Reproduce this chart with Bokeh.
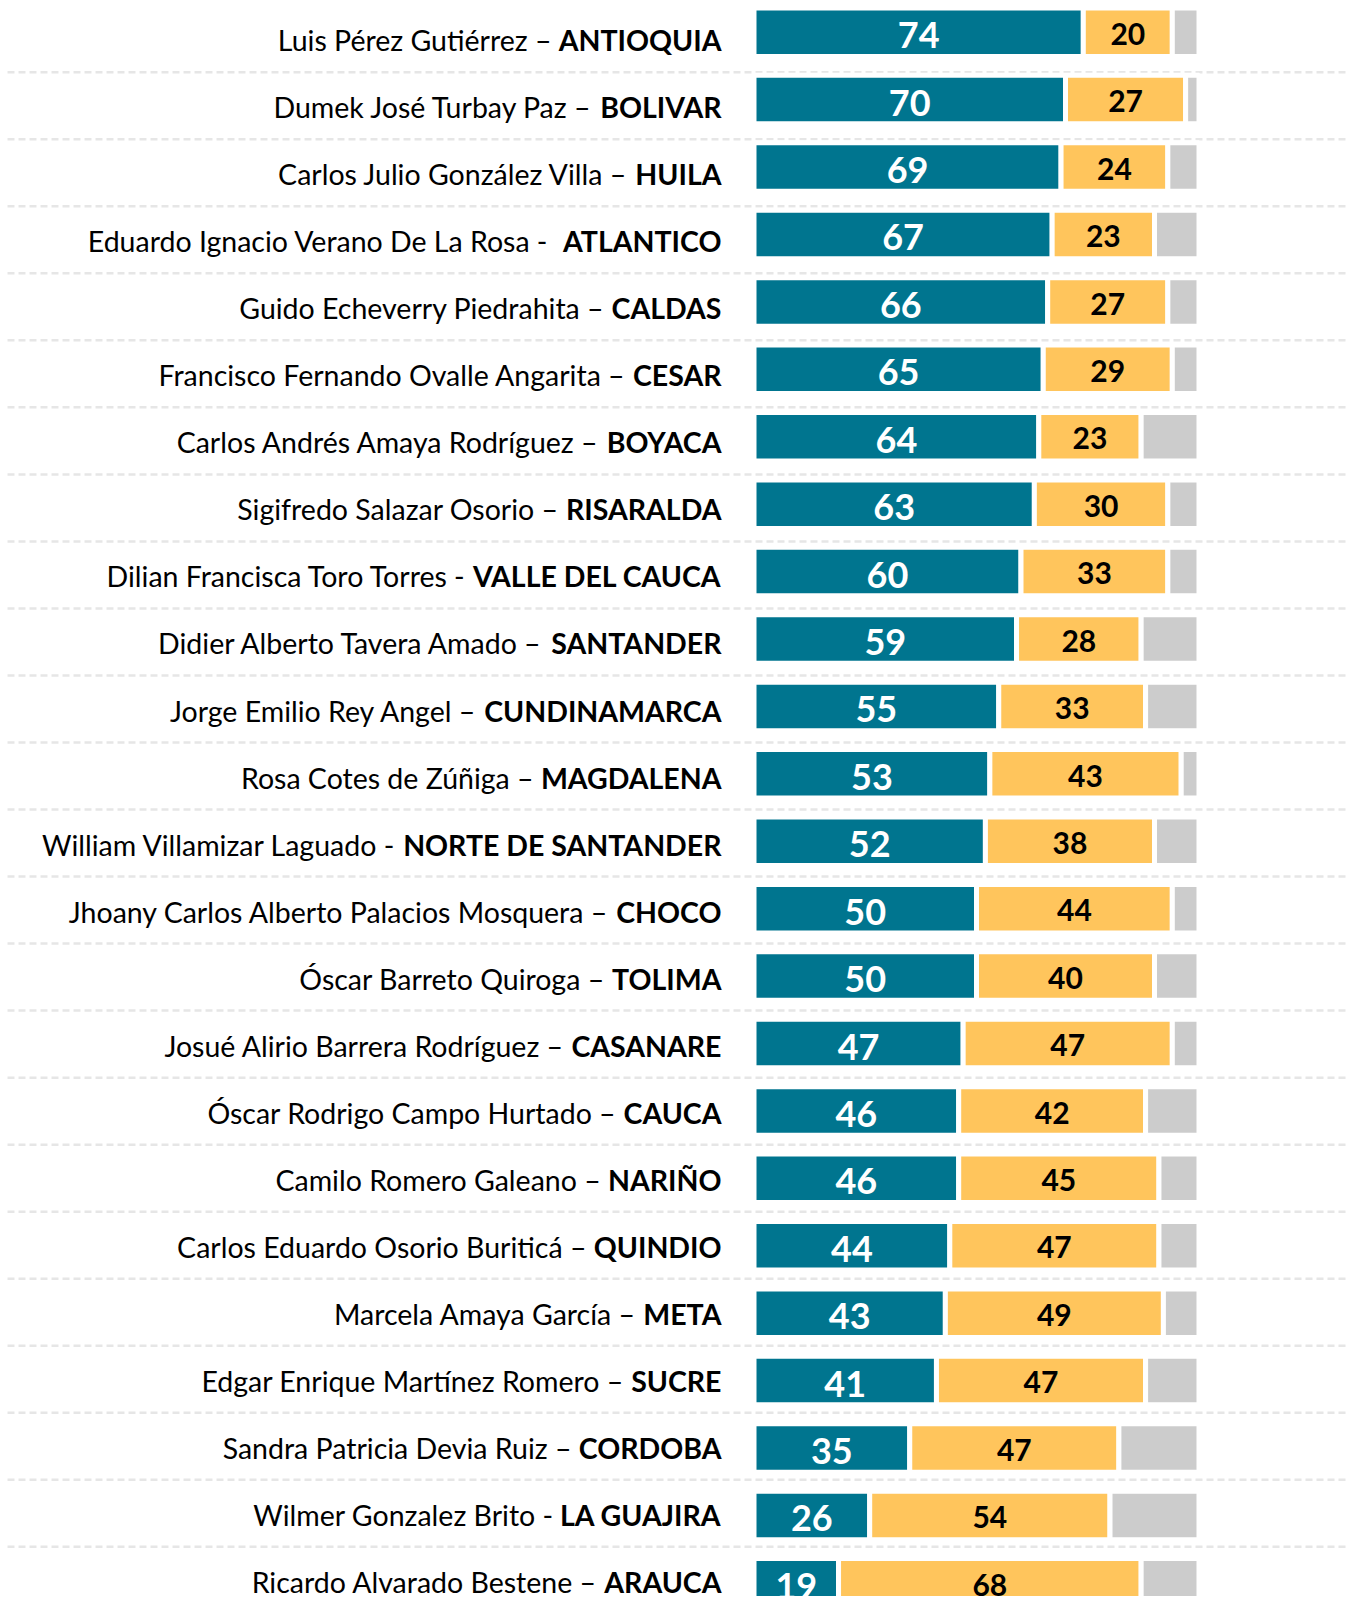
import os
import glob
import subprocess

from bokeh.plotting import figure
from bokeh.models import Range1d, ColumnDataSource
from bokeh.core.properties import value
from bokeh.embed import file_html
from bokeh.resources import INLINE

# ---------------- data ----------------
names = [
    "Luis Pérez Gutiérrez –",
    "Dumek José Turbay Paz –",
    "Carlos Julio González Villa –",
    "Eduardo Ignacio Verano De La Rosa  -",
    "Guido Echeverry Piedrahita –",
    "Francisco Fernando Ovalle Angarita –",
    "Carlos Andrés Amaya Rodríguez –",
    "Sigifredo Salazar Osorio –",
    "Dilian Francisca Toro Torres -",
    "Didier Alberto Tavera Amado –",
    "Jorge Emilio Rey Angel –",
    "Rosa Cotes de Zúñiga –",
    "William Villamizar Laguado -",
    "Jhoany Carlos Alberto Palacios Mosquera –",
    "Óscar Barreto Quiroga –",
    "Josué Alirio Barrera Rodríguez –",
    "Óscar Rodrigo Campo Hurtado –",
    "Camilo Romero Galeano –",
    "Carlos Eduardo Osorio Buriticá –",
    "Marcela Amaya García –",
    "Edgar Enrique Martínez Romero –",
    "Sandra Patricia Devia Ruiz –",
    "Wilmer Gonzalez Brito -",
    "Ricardo Alvarado Bestene –",
]
departments = [
    "ANTIOQUIA", "BOLIVAR", "HUILA", "ATLANTICO", "CALDAS", "CESAR",
    "BOYACA", "RISARALDA", "VALLE DEL CAUCA", "SANTANDER", "CUNDINAMARCA",
    "MAGDALENA", "NORTE DE SANTANDER", "CHOCO", "TOLIMA", "CASANARE",
    "CAUCA", "NARIÑO", "QUINDIO", "META", "SUCRE", "CORDOBA",
    "LA GUAJIRA", "ARAUCA",
]
approve = [74, 70, 69, 67, 66, 65, 64, 63, 60, 59, 55, 53, 52, 50, 50, 47,
           46, 46, 44, 43, 41, 35, 26, 19]
disapprove = [20, 27, 24, 23, 27, 29, 23, 30, 33, 28, 33, 43, 38, 44, 40, 47,
              42, 45, 47, 49, 47, 47, 54, 68]
total = 100

# ---------------- layout constants (pixels) ----------------
W, H = 1348, 1598
X0 = 753.5          # pixel where the bars begin
K = 4.45            # pixels per percentage point
BAR_C0, BAR_PITCH = 31.7, 67.42      # bar rows
TAB_C0, TAB_PITCH = 40.7, 67.03      # label rows / separators
LABEL_RIGHT = 721
FONT = "Lato"
LABEL_SIZE = 28.5
BLUE_NUM_SIZE = 36
YEL_NUM_SIZE = 30
TEXT_DY = -11.0     # renderer baseline correction (px)


def px_to_x(px):
    return (px - X0) / K


# ---------------- text width measurement ----------------
def find_font(style, fname):
    try:
        out = subprocess.run(["fc-match", "-f", "%{file}", f"{FONT}:style={style}"],
                             capture_output=True, text=True, timeout=10).stdout.strip()
        if out and os.path.exists(out) and FONT.lower() in os.path.basename(out).lower():
            return out
    except Exception:
        pass
    for root in ["/usr/share/fonts", "/usr/local/share/fonts",
                 os.path.expanduser("~/.fonts"), os.path.expanduser("~/.local/share/fonts")]:
        hits = glob.glob(os.path.join(root, "**", fname), recursive=True)
        if hits:
            return hits[0]
    return None


measure_reg = measure_bold = None
try:
    from PIL import ImageFont
    pr = find_font("Regular", "Lato-Regular.ttf")
    pb = find_font("Bold", "Lato-Bold.ttf")
    if pr:
        f_r = ImageFont.truetype(pr, LABEL_SIZE)
        measure_reg = lambda s: f_r.getlength(s)
    if pb:
        f_b = ImageFont.truetype(pb, LABEL_SIZE)
        measure_bold = lambda s: f_b.getlength(s)
except Exception:
    pass
if measure_reg is None:
    measure_reg = lambda s: len(s) * 0.50 * LABEL_SIZE
if measure_bold is None:
    measure_bold = lambda s: len(s) * 0.66 * LABEL_SIZE

space_w = measure_reg(" ")

# ---------------- sources ----------------
n = len(names)
rows = list(range(n))
ab_end = [a + b for a, b in zip(approve, disapprove)]

bars = ColumnDataSource(dict(
    row=rows,
    a=approve,
    ab=ab_end,
    tot=[total] * n,
    blue_x=[a / 2 for a in approve],
    yel_x=[a + b / 2 for a, b in zip(approve, disapprove)],
    blue_y=[r + (14.0 + TEXT_DY) / BAR_PITCH for r in rows],
    yel_y=[r + (12.7 + TEXT_DY) / BAR_PITCH for r in rows],
    a_txt=[str(a) for a in approve],
    b_txt=[str(b) for b in disapprove],
))

bold_x = [px_to_x(LABEL_RIGHT)] * n
reg_x = [px_to_x(LABEL_RIGHT - measure_bold(d) - space_w) for d in departments]
labels = ColumnDataSource(dict(
    name=names,
    dept=departments,
    bx=bold_x,
    rx=reg_x,
    y=[r + (10.0 + TEXT_DY) / TAB_PITCH for r in rows],
))

seps = ColumnDataSource(dict(
    y=[r + (71.7 - TAB_C0) / TAB_PITCH for r in rows[:-1]],
    x0=[px_to_x(7)] * (n - 1),
    x1=[px_to_x(W)] * (n - 1),
))

# ---------------- figure ----------------
p = figure(
    width=W, height=H,
    x_range=Range1d(px_to_x(0), px_to_x(W)),
    y_range=Range1d((H - BAR_C0) / BAR_PITCH, -BAR_C0 / BAR_PITCH),
    output_backend="svg", toolbar_location=None,
    x_axis_location=None, y_axis_location=None,
    min_border=0, outline_line_color=None,
    background_fill_color="white", border_fill_color="white",
)
p.grid.visible = False
p.extra_y_ranges = {"table": Range1d((H - TAB_C0) / TAB_PITCH, -TAB_C0 / TAB_PITCH)}

# separators
p.segment(x0="x0", y0="y", x1="x1", y1="y", source=seps, y_range_name="table",
          line_color="#e6e6e6", line_width=2.5, line_dash="7 4")

# bars
bh = (43.5 + 5) / BAR_PITCH
p.hbar(y="row", left=0, right="a", height=bh, source=bars,
       fill_color="#00758F", line_color="white", line_width=5)
p.hbar(y="row", left="a", right="ab", height=bh, source=bars,
       fill_color="#FFC55C", line_color="white", line_width=5)
p.hbar(y="row", left="ab", right="tot", height=bh, source=bars,
       fill_color="#CCCCCC", line_color="white", line_width=5)

# values
p.text(x="blue_x", y="blue_y", text="a_txt", source=bars,
       text_font=value(FONT), text_font_style="bold", text_font_size=f"{BLUE_NUM_SIZE}px",
       text_color="white", text_align="center", text_baseline="alphabetic")
p.text(x="yel_x", y="yel_y", text="b_txt", source=bars,
       text_font=value(FONT), text_font_style="bold", text_font_size=f"{YEL_NUM_SIZE}px",
       text_color="black", text_align="center", text_baseline="alphabetic")

# row labels
p.text(x="bx", y="y", text="dept", source=labels, y_range_name="table",
       text_font=value(FONT), text_font_style="bold", text_font_size=f"{LABEL_SIZE}px",
       text_color="black", text_align="right", text_baseline="alphabetic")
p.text(x="rx", y="y", text="name", source=labels, y_range_name="table",
       text_font=value(FONT), text_font_style="normal", text_font_size=f"{LABEL_SIZE}px",
       text_color="black", text_align="right", text_baseline="alphabetic")

open("out.html", "w").write(file_html(p, INLINE))
